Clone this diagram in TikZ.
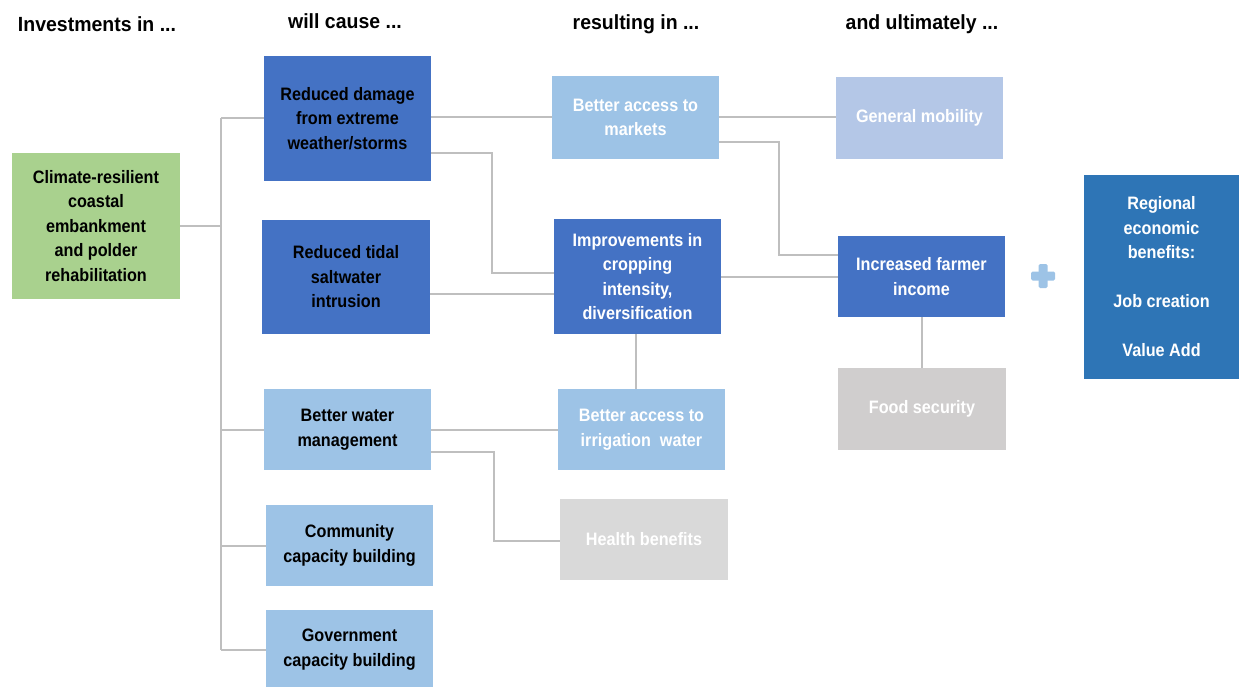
\documentclass[tikz,border=0pt]{standalone}
\usepackage{fontspec}
\setmainfont[FakeStretch=0.9]{Liberation Sans}
\newfontfamily\hdrfont[FakeStretch=0.95]{Liberation Sans}
\usetikzlibrary{positioning}
\definecolor{cgreen}{HTML}{A9D18E}
\definecolor{cdark}{HTML}{4472C4}
\definecolor{clight}{HTML}{9DC3E6}
\definecolor{cpale}{HTML}{B4C7E7}
\definecolor{cgrayA}{HTML}{D9D9D9}
\definecolor{cgrayB}{HTML}{D0CECE}
\definecolor{creg}{HTML}{2E75B6}
\definecolor{cline}{HTML}{BFBFBF}
\tikzset{
  box/.style={rectangle, inner sep=2pt, align=center, draw=none,
    font=\fontsize{18}{24.5}\selectfont\bfseries},
  hdr/.style={font=\hdrfont\fontsize{20.5}{24}\selectfont\bfseries, inner sep=0pt},
  conn/.style={draw=cline, line width=2pt},
}
\begin{document}
\begin{tikzpicture}[x=1pt,y=-1pt]
\useasboundingbox (0,0) rectangle (1239,687);
% headers
\node[hdr] (h1) at (97,24) {Investments in ...};
\node[hdr] (h2) at (345,21) {will cause ...};
\node[hdr] (h3) at (636,24) {resulting in ...};
\node[hdr] (h4) at (922,24) {and ultimately ...};
% boxes
\node[box, fill=cgreen, minimum width=168pt, minimum height=146pt] (green) at (96,226) {Climate-resilient\\coastal\\embankment\\and polder\\rehabilitation};
\node[box, fill=cdark, minimum width=167pt, minimum height=125pt] (dmg) at (347.5,118.5) {Reduced damage\\from extreme\\weather/storms};
\node[box, fill=cdark, minimum width=168pt, minimum height=114pt] (tidal) at (346,277) {Reduced tidal\\saltwater\\intrusion};
\node[box, fill=clight, minimum width=167pt, minimum height=81pt] (water) at (347.5,429.5) {Better water\\management};
\node[box, fill=clight, minimum width=167pt, minimum height=81pt] (comm) at (349.5,545.5) {Community\\capacity building};
\node[box, fill=clight, minimum width=167pt, minimum height=79pt] (gov) at (349.5,649.5) {Government\\capacity building};
\node[box, fill=clight, text=white, minimum width=167pt, minimum height=83pt] (markets) at (635.5,117.5) {Better access to\\markets};
\node[box, fill=cdark, text=white, minimum width=167pt, minimum height=115pt] (improve) at (637.5,276.5) {Improvements in\\cropping\\intensity,\\diversification};
\node[box, fill=clight, text=white, minimum width=167pt, minimum height=81pt] (irrig) at (641.5,429.5) {Better access to\\irrigation\ \ water};
\node[box, fill=cgrayA, text=white, minimum width=168pt, minimum height=81pt] (health) at (644,539.5) {Health benefits};
\node[box, fill=cpale, text=white, minimum width=167pt, minimum height=82pt] (mobility) at (919.5,118) {General mobility};
\node[box, fill=cdark, text=white, minimum width=167pt, minimum height=81pt] (income) at (921.5,276.5) {Increased farmer\\income};
\node[box, fill=cgrayB, text=white, minimum width=168pt, minimum height=82pt] (food) at (922,409) {Food security};
\node[box, fill=creg, text=white, minimum width=155pt, minimum height=204pt] (regional) at (1161.5,277) {Regional\\economic\\benefits:\\[24.5pt]Job creation\\[24.5pt]Value Add};
% plus sign
\fill[clight, rounded corners=1.5pt] (1031,271.5) rectangle (1055,280.5);
\fill[clight, rounded corners=1.5pt] (1038.5,264) rectangle (1047.5,288);
% connectors
\coordinate (bus) at (221,0);
\draw[conn] (green.east) -- (green.east -| bus);
\draw[conn] (bus |- dmg.west) -- (bus |- gov.west);
\draw[conn] (bus |- dmg.west) -- (dmg.west);
\draw[conn] (bus |- water.west) -- (water.west);
\draw[conn] (bus |- comm.west) -- (comm.west);
\draw[conn] (bus |- gov.west) -- (gov.west);
\draw[conn] (dmg.east |- markets.west) -- (markets.west);
\draw[conn] ([yshift=-34.5pt]dmg.east) -- ++(61,0) |- ([yshift=3.5pt]improve.west);
\draw[conn] ([yshift=-17pt]tidal.east) -- ([yshift=-17.5pt]improve.west);
\draw[conn] (markets.east) -- (mobility.west |- markets.east);
\draw[conn] ([yshift=-24.5pt]markets.east) -- ++(60,0) |- ([yshift=21.5pt]income.west);
\draw[conn] (improve.east) -- (income.west);
\draw[conn] ([xshift=-1.5pt]improve.south) -- ([xshift=-1.5pt]improve.south |- irrig.north);
\draw[conn] (water.east) -- (irrig.west);
\draw[conn] ([yshift=-22.5pt]water.east) -- ++(63,0) |- ([yshift=-1.5pt]health.west);
\draw[conn] (income.south) -- (income.south |- food.north);
\end{tikzpicture}
\end{document}
